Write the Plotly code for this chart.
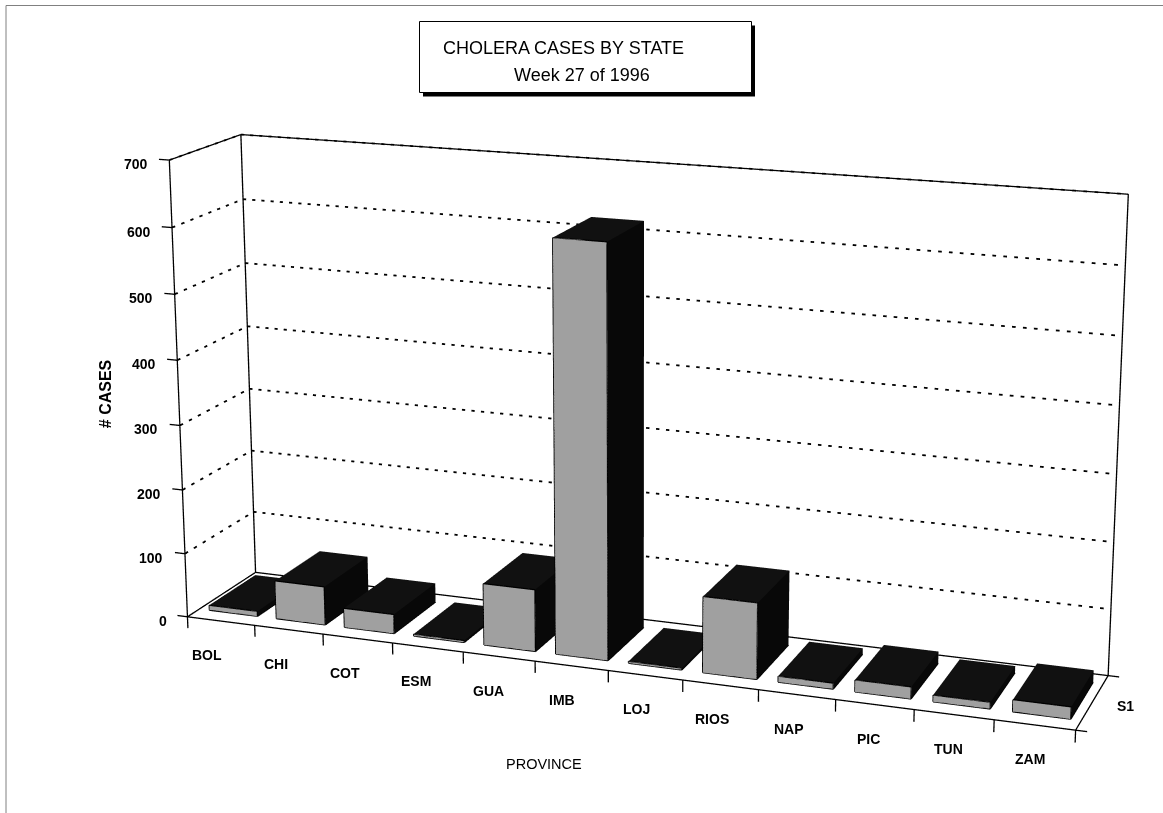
import numpy as np
import plotly.graph_objects as go

provinces = ["BOL", "CHI", "COT", "ESM", "GUA", "IMB", "LOJ", "RIOS", "NAP", "PIC", "TUN", "ZAM"]
cases = [8, 60, 30, 3, 95, 620, 3, 115, 9, 18, 10, 18]
z_ticks = [0, 100, 200, 300, 400, 500, 600, 700]

# Page geometry
FW, FH = 1287, 2461
TOP = -872.5
def px(x): return x / FW
def py(y): return 1 - (y - TOP) / FH

N = len(provinces)
BAR_W, BAR_C, D0, D1 = 0.72, 0.51, 0.17, 0.85
ZMAX = 700
PADX, PADY, PADZ = 0.5, 0.5, 50
AX, AY, AZ = 2.0, 0.3305, 1.0318

fig = go.Figure()

def mesh(faces_of_bar, color):
    xs, ys, zs, ii, jj, kk = [], [], [], [], [], []
    for b, v in enumerate(cases):
        x0 = b + BAR_C - BAR_W / 2
        x1 = b + BAR_C + BAR_W / 2
        for quad in faces_of_bar(x0, x1, v):
            n = len(xs)
            for (a, c, e) in quad:
                xs.append(a); ys.append(c); zs.append(e)
            ii += [n, n]; jj += [n + 1, n + 2]; kk += [n + 2, n + 3]
    fig.add_trace(go.Mesh3d(x=xs, y=ys, z=zs, i=ii, j=jj, k=kk, color=color, flatshading=True,
                            lighting=dict(ambient=1, diffuse=0, specular=0, roughness=1, fresnel=0),
                            hoverinfo="skip", showscale=False))

def front(x0, x1, v): return [[(x0, D0, 0), (x1, D0, 0), (x1, D0, v), (x0, D0, v)]]
def top(x0, x1, v): return [[(x0, D0, v), (x1, D0, v), (x1, D1, v), (x0, D1, v)]]
def side(x0, x1, v): return [[(x1, D0, 0), (x1, D1, 0), (x1, D1, v), (x1, D0, v)],
                             [(x0, D1, 0), (x1, D1, 0), (x1, D1, v), (x0, D1, v)]]
mesh(front, "#a0a0a0")
mesh(top, "#111111")
mesh(side, "#080808")

def lines(segs, width, color="black"):
    xs, ys, zs = [], [], []
    for a, b in segs:
        xs += [a[0], b[0], None]; ys += [a[1], b[1], None]; zs += [a[2], b[2], None]
    fig.add_trace(go.Scatter3d(x=xs, y=ys, z=zs, mode="lines", line=dict(color=color, width=width), hoverinfo="skip"))

def dotted(a, b, n):
    a, b = np.array(a, float), np.array(b, float)
    out = []
    for i in range(n):
        t0 = i / n
        t1 = (i + 0.34) / n
        out.append((tuple(a + (b - a) * t0), tuple(a + (b - a) * t1)))
    return out

# bar outlines
bar_edges = []
for b, v in enumerate(cases):
    x0 = b + BAR_C - BAR_W / 2
    x1 = b + BAR_C + BAR_W / 2
    bar_edges += [((x0, D0, 0), (x1, D0, 0)), ((x1, D0, 0), (x1, D0, v)), ((x1, D0, v), (x0, D0, v)), ((x0, D0, v), (x0, D0, 0)),
                  ((x1, D0, 0), (x1, D1, 0))]
lines(bar_edges, 2.6)

# chart box
frame = [((0, 0, 0), (N, 0, 0)), ((N, 0, 0), (N, 1, 0)), ((N, 1, 0), (0, 1, 0)), ((0, 1, 0), (0, 0, 0)),
         ((0, 0, 0), (0, 0, ZMAX)), ((0, 1, 0), (0, 1, ZMAX)), ((N, 1, 0), (N, 1, ZMAX)),
         ((0, 0, ZMAX), (0, 1, ZMAX)), ((0, 1, ZMAX), (N, 1, ZMAX))]
ticks = [((0, 0, t), (-0.15, 0, t)) for t in z_ticks]
ticks += [((i, 0, 0), (i, 0, -18)) for i in range(N + 1)]
ticks += [((N, 0, 0), (N + 0.14, 0, 0)), ((N, 1, 0), (N + 0.14, 1, 0))]
lines(frame + ticks, 2.6)

grid = []
for t in z_ticks[1:]:
    grid += dotted((0, 0, t), (0, 1, t), 8)
    grid += dotted((0, 1, t), (N, 1, t), 87)
lines(grid, 3.6)

LABEL = dict(family="Liberation Sans", size=14, color="black")
ann3d = []
for i, name in enumerate(provinces):
    ann3d.append(dict(x=i + 0.5, y=0, z=0, text=f"<b>{name}</b>", showarrow=False, font=LABEL,
                      xshift=-14 + 9 * i / (N - 1), yshift=-34))
for i, t in enumerate(z_ticks):
    ann3d.append(dict(x=0, y=0, z=t, text=f"<b>{t}</b>", showarrow=False, font=LABEL, xanchor="right",
                      xshift=-18 if t == 0 else -19.5, yshift=-4))
ann3d.append(dict(x=N, y=0.5, z=0, text="<b>S1</b>", showarrow=False, font=LABEL, xshift=33, yshift=-4))

fig.update_layout(
    width=FW, height=FH, margin=dict(l=0, r=0, t=0, b=0, pad=0), autosize=False,
    paper_bgcolor="white", showlegend=False,
    font=dict(family="Liberation Sans", size=12, color="black"),
    scene=dict(
        domain=dict(x=[0, 1], y=[0, 1]),
        xaxis=dict(visible=False, range=[-PADX, N + PADX]),
        yaxis=dict(visible=False, range=[-PADY, 1 + PADY]),
        zaxis=dict(visible=False, range=[-PADZ, ZMAX + PADZ]),
        aspectmode="manual",
        aspectratio=dict(x=AX * (N + 2 * PADX) / N, y=AY * (1 + 2 * PADY), z=AZ * (ZMAX + 2 * PADZ) / ZMAX),
        camera=dict(eye=dict(x=2.0802, y=-5.7097, z=1.6859), center=dict(x=-0.0099, y=0.0803, z=0.1053),
                    up=dict(x=-0.0027, y=0.0057, z=1)),
        annotations=ann3d, dragmode=False,
    ),
    shapes=[
        dict(type="line", xref="paper", yref="paper", x0=px(6), x1=px(1163), y0=py(5), y1=py(5), line=dict(color="#808080", width=1)),
        dict(type="line", xref="paper", yref="paper", x0=px(6), x1=px(6), y0=py(5), y1=py(813), line=dict(color="#808080", width=1)),
        dict(type="rect", xref="paper", yref="paper", x0=px(423), x1=px(755), y0=py(25), y1=py(96), fillcolor="black", line=dict(width=0)),
        dict(type="rect", xref="paper", yref="paper", x0=px(419.5), x1=px(751.5), y0=py(21), y1=py(92), fillcolor="white", line=dict(color="black", width=1)),
    ],
    annotations=[
        dict(xref="paper", yref="paper", x=px(563.5), y=py(47.5), text="CHOLERA CASES BY STATE", showarrow=False, xanchor="center", yanchor="middle", font=dict(size=18)),
        dict(xref="paper", yref="paper", x=px(582), y=py(74.5), text="Week 27 of 1996", showarrow=False, xanchor="center", yanchor="middle", font=dict(size=18)),
        dict(xref="paper", yref="paper", x=px(105.7), y=py(393), text="<b># CASES</b>", textangle=-90, showarrow=False, xanchor="center", yanchor="middle", font=dict(size=16)),
        dict(xref="paper", yref="paper", x=px(544), y=py(763), text="PROVINCE", showarrow=False, xanchor="center", yanchor="middle", font=dict(size=14.5)),
    ],
)
post = ("document.documentElement.style.overflow='hidden';document.body.style.overflow='hidden';"
        "document.body.style.margin='0';var g=document.getElementById('{plot_id}');"
        "g.style.position='absolute';g.style.left='0px';g.style.top='%spx';" % TOP)
fig.write_html("out.html", post_script=post)
